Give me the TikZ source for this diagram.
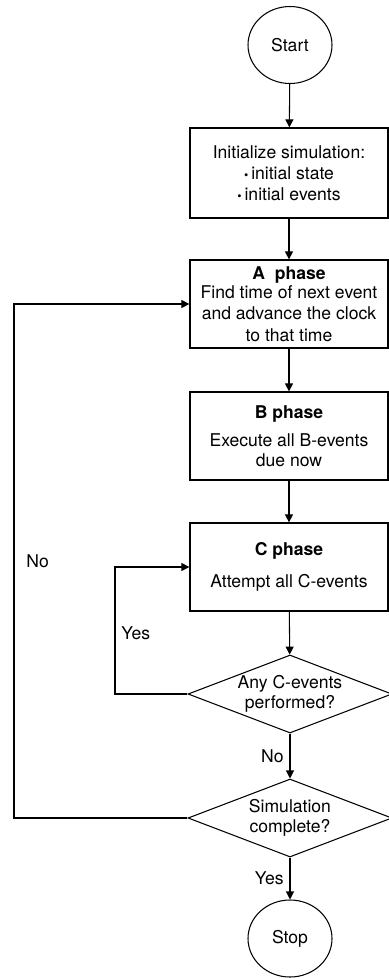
\documentclass[tikz,border=0pt]{standalone}
\usepackage{fontspec}
\setmainfont{TeX Gyre Heros}
\usetikzlibrary{arrows.meta,positioning,calc,shapes.geometric}
\tikzset{
  block/.style    = {draw, line width=0.7pt, rectangle, minimum height=1.76cm,
                     minimum width=3.96cm, align=center, inner sep=0pt},
  termnode/.style = {draw, line width=0.6pt, ellipse, minimum width=1.68cm,
                     minimum height=1.54cm, inner sep=0pt},
  decide/.style   = {draw, line width=0.6pt, diamond, aspect=2.6, minimum width=4.08cm,
                     minimum height=1.56cm, inner sep=-3pt, align=center},
  sig/.style      = {-{Triangle[length=1.6mm,width=1.6mm]}, line width=0.6pt},
}
\newcommand{\ttl}[1]{\textbf{#1}}

\begin{document}
\begin{tikzpicture}[x=1cm,y=1cm,font=\fontsize{10}{11}\selectfont]
\useasboundingbox (0,0) rectangle (7.76,-19.56);
\node[termnode] (T0) at (5.8,-0.9) {Start};
\node[block,minimum height=1.8cm] (I) at (5.78,-3.46)
  {Initialize simulation:\\[1pt]{\scriptsize\textbullet}\,initial state\\[1pt]{\scriptsize\textbullet}\,initial events};
\node[block] (A) at (5.78,-6.08)
  {\ttl{A\ \ phase}\\Find time of next event\\[1pt]and advance the clock\\[1pt]to that time};
\node[block] (B) at (5.78,-8.72)
  {\ttl{B phase}\\[5pt]Execute all B-events\\due now};
\node[block] (C) at (5.78,-11.34)
  {\ttl{C phase}\\[7pt]Attempt all C-events};
\node[decide] (D1) at (5.8,-13.88) {Any C-events\\performed?};
\node[decide] (D2) at (5.8,-16.36) {Simulation\\complete?};
\node[termnode] (E) at (5.8,-18.77) {Stop};
\coordinate (Ly) at (2.3,0);
\coordinate (Ln) at (0.28,0);
\draw[sig] (T0) -- (I);
\draw[sig] (I) -- (A);
\draw[sig] (A) -- (B);
\draw[sig] (B) -- (C);
\draw[sig] (C) -- (D1);
\draw[sig] (D1) -- node[left]{No} (D2);
\draw[sig] (D2) -- node[left]{Yes} (E);
\draw[sig] (D1.west) -- (D1.west -| Ly) -- node[right,pos=0.48]{Yes} (C.west -| Ly) -- (C.west);
\draw[sig] (D2.west) -- (D2.west -| Ln) -- node[right=0.12cm,pos=0.5]{No} (A.west -| Ln) -- (A.west);
\end{tikzpicture}
\end{document}
